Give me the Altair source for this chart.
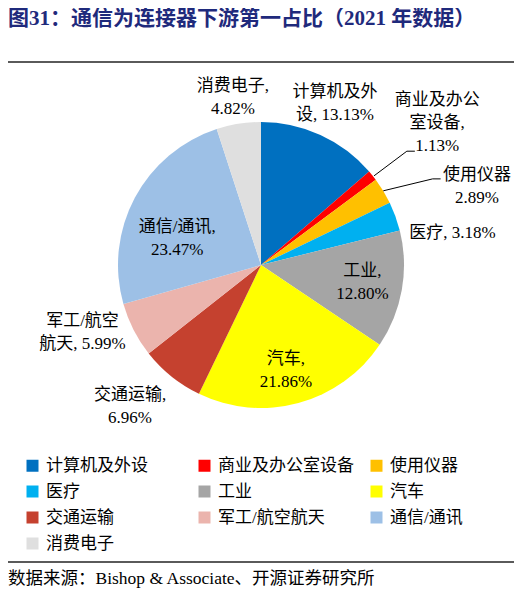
import math
import altair as alt
import pandas as pd

# ---- data ----
CATEGORIES = ["计算机及外设", "商业及办公室设备", "使用仪器", "医疗", "工业",
              "汽车", "交通运输", "军工/航空航天", "通信/通讯", "消费电子"]
VALUES = [13.13, 1.13, 2.89, 3.18, 12.80, 21.86, 6.96, 5.99, 23.47, 4.82]
LABEL_TEMPLATES = ["计算机及外\n设, {v}", "商业及办公\n室设备,\n{v}", "使用仪器\n{v}",
                   "医疗, {v}", "工业,\n{v}", "汽车,\n{v}", "交通运输,\n{v}",
                   "军工/航空\n航天, {v}", "通信/通讯,\n{v}", "消费电子,\n{v}"]
COLORS = ["#0070C0", "#FF0000", "#FFC000", "#00B0F0", "#A5A5A5",
          "#FFFF00", "#C5412F", "#EBB4AD", "#9DC0E6", "#DFDFDF"]
TITLE = "图31：通信为连接器下游第一占比（2021 年数据）"
SOURCE = "数据来源：Bishop & Associate、开源证券研究所"

# ---- layout / style ----
W, H = 506, 587
CX, CY, R = 253, 257, 143
LINE_H = 23
LABEL_R = [178, 226, 230, 194, 103, 108, 193, 191, 88, 170]
LABEL_SHIFT = [0, 0, 11.2, 10.4, 0, 1.8, 4, 6.2, -10.3, -0.5]
# leader lines: (slice index, list of (radius, angle-shift) points)
LEADERS = [(1, [(144, 0.5), (185, 0.8)]), (2, [(143, 0), (192, 4.6)])]
FONT = "Liberation Serif, Noto Sans CJK SC"

total = sum(VALUES)
rows = []
cum = 0.0
for i, (c, v) in enumerate(zip(CATEGORIES, VALUES)):
    mid = (cum + v / 2) / total * 360
    cum += v
    a = math.radians(mid + LABEL_SHIFT[i])
    text = LABEL_TEMPLATES[i].format(v=f"{v:.2f}%")
    n_lines = text.count("\n") + 1
    rows.append(dict(cat=c, value=v, idx=i, mid=mid, label=text,
                     lx=CX + LABEL_R[i] * math.sin(a),
                     ly=CY - LABEL_R[i] * math.cos(a) - (n_lines - 1) * LINE_H / 2))
df = pd.DataFrame(rows)


def pt(mid, r, shift):
    a = math.radians(mid + shift)
    return CX + r * math.sin(a), CY - r * math.cos(a)


seg = []
for i, pts in LEADERS:
    m = df.loc[i, "mid"]
    xy = [pt(m, r, s) for r, s in pts]
    for (x1, y1), (x2, y2) in zip(xy[:-1], xy[1:]):
        seg.append(dict(x=x1, y=y1, x2=x2, y2=y2))
    x_last, y_last = xy[-1]
    seg.append(dict(x=x_last, y=y_last, x2=x_last + 8, y2=y_last))
seg_df = pd.DataFrame(seg)

color = alt.Color("cat:N", scale=alt.Scale(domain=CATEGORIES, range=COLORS),
                  legend=alt.Legend(title=None, orient="none", legendX=16, legendY=449,
                                    direction="horizontal", columns=3, gridAlign="all",
                                    columnPadding=14, rowPadding=8, symbolType="square",
                                    symbolSize=144, symbolStrokeWidth=0, labelFont=FONT,
                                    labelFontSize=17, labelColor="#000000", labelOffset=5,
                                    padding=0, labelLimit=300))

pie = alt.Chart(df).mark_arc(radius=R).encode(
    theta=alt.Theta("value:Q", stack=True),
    order=alt.Order("idx:Q"),
    color=color,
    x=alt.value(CX), y=alt.value(CY),
)

labels = alt.Chart(df).mark_text(font=FONT, fontSize=17, lineBreak="\n", lineHeight=LINE_H,
                                 align="center", baseline="middle", color="#000000").encode(
    x=alt.X("lx:Q", scale=None, axis=None),
    y=alt.Y("ly:Q", scale=None, axis=None),
    text="label:N",
)

leaders = alt.Chart(seg_df).mark_rule(color="#000000", strokeWidth=1).encode(
    x=alt.X("x:Q", scale=None, axis=None), y=alt.Y("y:Q", scale=None, axis=None),
    x2="x2:Q", y2="y2:Q",
)

title = alt.Chart(pd.DataFrame({"t": [TITLE]})).mark_text(
    font=FONT, fontSize=21, fontWeight="bold", color="#1F2A7C",
    align="left", baseline="middle").encode(
    x=alt.value(0), y=alt.value(11), text="t:N")

source = alt.Chart(pd.DataFrame({"t": [SOURCE]})).mark_text(
    font=FONT, fontSize=17.5, color="#000000",
    align="left", baseline="middle").encode(
    x=alt.value(0), y=alt.value(571), text="t:N")

top_line = alt.Chart(pd.DataFrame({"a": [0]})).mark_rule(color="#5A5A5A", strokeWidth=2).encode(
    x=alt.value(-2), x2=alt.value(508), y=alt.value(54))
bottom_line = alt.Chart(pd.DataFrame({"a": [0]})).mark_rule(color="#5A5A5A", strokeWidth=2).encode(
    x=alt.value(-2), x2=alt.value(508), y=alt.value(554))

chart = alt.layer(pie, leaders, labels, title, source, top_line, bottom_line).properties(
    width=W, height=H, padding=0, autosize=alt.AutoSizeParams(type="none"),
    background="#FFFFFF",
).configure_view(stroke=None)

chart.save("out.html", embed_options={"renderer": "svg", "actions": False})
